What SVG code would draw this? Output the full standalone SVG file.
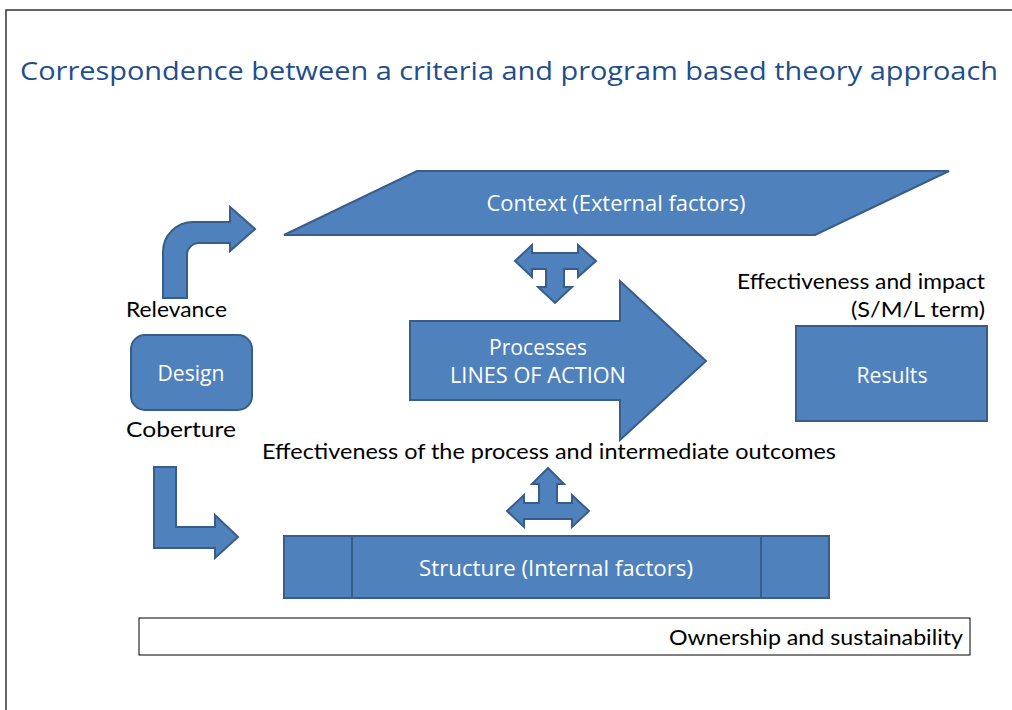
<svg xmlns="http://www.w3.org/2000/svg" width="1012" height="710" viewBox="0 0 1012 710">
<style>
.shape{fill:#4F81BD;stroke:#385D8A;stroke-width:2;stroke-linejoin:miter}
.wt{fill:#FFFFFF;font-family:"Open Sans",sans-serif;font-size:21px;text-anchor:middle}
.bt{fill:#000000;font-family:"Lato",sans-serif;font-size:22px}
.title{fill:#1F4E8C;font-family:"Open Sans",sans-serif;font-size:26px}
</style>
<rect x="0" y="0" width="1012" height="710" fill="#FFFFFF"/>
<path d="M6,710 V10 H1012" fill="none" stroke="#333333" stroke-width="1.5"/>
<text class="title" x="20" y="80" textLength="978" lengthAdjust="spacingAndGlyphs">Correspondence between a criteria and program based theory approach</text>

<g id="connectors">
<path id="relevance-arrow" class="shape" d="M163,298 V252 A30,30 0 0 1 193,222 H230 V207 L255,229 L230,251 V243 H199 A12,12 0 0 0 187,255 V298 Z"/>
<path id="coberture-arrow" class="shape" d="M154,467 H176 V527 H215 V515 L238,537 L215,558 V548 H154 Z"/>
<path id="context-t-arrow" class="shape" d="M515,261 L532,245 V253 H578 V245 L596,261 L578,277 V269 H564 V287 H572 L555,303 L538,287 H546 V269 H532 V277 Z"/>
<path id="structure-t-arrow" class="shape" d="M548,468 L564,484 H557 V503 H572 V495 L589,511 L572,527 V519 H524 V527 L507,511 L524,495 V503 H539 V484 H532 Z"/>
</g>

<g id="context">
<path class="shape" d="M417,171 H949 L815,235 H284 Z"/>
<text class="wt" x="616" y="211" textLength="259" lengthAdjust="spacingAndGlyphs">Context (External factors)</text>
</g>

<g id="processes">
<path class="shape" d="M410,321 H620 V281 L706,361 L620,440 V400 H410 Z"/>
<text class="wt" x="538" y="355" textLength="98" lengthAdjust="spacingAndGlyphs">Processes</text>
<text class="wt" x="538" y="383" textLength="176" lengthAdjust="spacingAndGlyphs">LINES OF ACTION</text>
</g>

<g id="design">
<rect class="shape" x="131" y="335" width="121" height="75" rx="14"/>
<text class="wt" x="191" y="381" textLength="67" lengthAdjust="spacingAndGlyphs">Design</text>
</g>

<g id="results">
<rect class="shape" x="796" y="326" width="191" height="95"/>
<text class="wt" x="892" y="383" textLength="71" lengthAdjust="spacingAndGlyphs">Results</text>
</g>

<g id="structure">
<rect class="shape" x="284" y="536" width="545" height="62"/>
<line class="shape" x1="352" y1="536" x2="352" y2="598"/>
<line class="shape" x1="761" y1="536" x2="761" y2="598"/>
<text class="wt" x="556" y="576" textLength="274" lengthAdjust="spacingAndGlyphs">Structure (Internal factors)</text>
</g>

<g id="ownership">
<rect x="139" y="618" width="831" height="37" fill="#FFFFFF" stroke="#000000" stroke-width="1"/>
<text class="bt" x="669" y="645" textLength="294" lengthAdjust="spacingAndGlyphs">Ownership and sustainability</text>
</g>

<g id="labels">
<text class="bt" x="126" y="317" textLength="101" lengthAdjust="spacingAndGlyphs">Relevance</text>
<text class="bt" x="126" y="437" textLength="110" lengthAdjust="spacingAndGlyphs">Coberture</text>
<text class="bt" x="737" y="289" textLength="248" lengthAdjust="spacingAndGlyphs">Effectiveness and impact</text>
<text class="bt" x="851" y="317" textLength="134" lengthAdjust="spacingAndGlyphs">(S/M/L term)</text>
<text class="bt" x="262" y="459" textLength="574" lengthAdjust="spacingAndGlyphs">Effectiveness of the process and intermediate outcomes</text>
</g>
</svg>
